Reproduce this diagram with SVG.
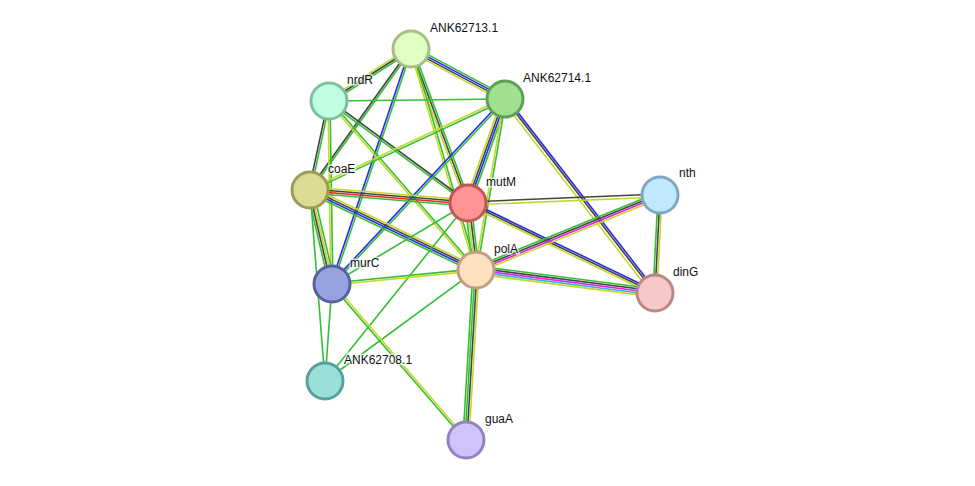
<svg xmlns="http://www.w3.org/2000/svg" width="975" height="486" viewBox="0 0 975 486">
<style>
line{stroke-width:1.6;fill:none}
.g{stroke:#33c033}.l{stroke:#c4d82c}.k{stroke:#444}.b{stroke:#2828f0}.r{stroke:#ee2222}.m{stroke:#e022e0}.c{stroke:#30b4e0}
circle{stroke-width:3}
text{font-family:"Liberation Sans",Arial,sans-serif;font-size:12px;fill:#111;stroke:#fff;stroke-width:3;stroke-opacity:.7;paint-order:stroke}
</style>
<rect width="975" height="486" fill="#fff"/>
<g id="edges">
<g transform="translate(411 49) rotate(147.6)"><line x2="97.1" y1="-2" y2="-2" class="g"/><line x2="97.1" class="k"/><line x2="97.1" y1="2" y2="2" class="l"/></g>
<g transform="translate(411 49) rotate(28)"><line x2="106.5" y1="-3" y2="-3" class="g"/><line x2="106.5" y1="-1" y2="-1" class="b"/><line x2="106.5" y1="1" y2="1" class="k"/><line x2="106.5" y1="3" y2="3" class="l"/></g>
<g transform="translate(411 49) rotate(125.6)"><line x2="173.4" y1="-1" y2="-1" class="g"/><line x2="173.4" y1="1" y2="1" class="k"/></g>
<g transform="translate(411 49) rotate(108.6)"><line x2="247.9" y1="-1" y2="-1" class="g"/><line x2="247.9" y1="1" y2="1" class="b"/></g>
<g transform="translate(411 49) rotate(69.7)"><line x2="164.2" y1="-2" y2="-2" class="g"/><line x2="164.2" class="k"/><line x2="164.2" y1="2" y2="2" class="l"/></g>
<g transform="translate(411 49) rotate(73.6)"><line x2="230.4" y1="-1" y2="-1" class="g"/><line x2="230.4" y1="1" y2="1" class="l"/></g>
<g transform="translate(329 101) rotate(-0.65)"><line x2="176" class="g"/></g>
<g transform="translate(329 101) rotate(102.1)"><line x2="91" y1="-1" y2="-1" class="g"/><line x2="91" y1="1" y2="1" class="k"/></g>
<g transform="translate(329 101) rotate(89.1)"><line x2="183" y1="-1" y2="-1" class="g"/><line x2="183" y1="1" y2="1" class="l"/></g>
<g transform="translate(329 101) rotate(36.3)"><line x2="172.4" y1="-1" y2="-1" class="k"/><line x2="172.4" y1="1" y2="1" class="g"/></g>
<g transform="translate(329 101) rotate(49)"><line x2="224" y1="-1" y2="-1" class="g"/><line x2="224" y1="1" y2="1" class="l"/></g>
<g transform="translate(505 99) rotate(155)"><line x2="215.2" y1="-1" y2="-1" class="g"/><line x2="215.2" y1="1" y2="1" class="l"/></g>
<g transform="translate(505 99) rotate(109.6)"><line x2="110.4" y1="-3" y2="-3" class="g"/><line x2="110.4" y1="-1" y2="-1" class="b"/><line x2="110.4" y1="1" y2="1" class="k"/><line x2="110.4" y1="3" y2="3" class="l"/></g>
<g transform="translate(505 99) rotate(99.6)"><line x2="173.4" y1="-1" y2="-1" class="g"/><line x2="173.4" y1="1" y2="1" class="l"/></g>
<g transform="translate(505 99) rotate(133.1)"><line x2="253.3" y1="-1" y2="-1" class="g"/><line x2="253.3" y1="1" y2="1" class="b"/></g>
<g transform="translate(505 99) rotate(52.3)"><line x2="245.2" y1="-2" y2="-2" class="b"/><line x2="245.2" class="k"/><line x2="245.2" y1="3" y2="3" class="l"/></g>
<g transform="translate(310 190) rotate(4.7)"><line x2="158.5" y1="-3" y2="-3" class="l"/><line x2="158.5" y1="-1" y2="-1" class="k"/><line x2="158.5" y1="1" y2="1" class="r"/><line x2="158.5" y1="3" y2="3" class="g"/></g>
<g transform="translate(310 190) rotate(25.7)"><line x2="184.3" y1="-3" y2="-3" class="l"/><line x2="184.3" y1="-1" y2="-1" class="k"/><line x2="184.3" y1="1" y2="1" class="b"/><line x2="184.3" y1="3" y2="3" class="g"/></g>
<g transform="translate(310 190) rotate(76.8)"><line x2="96.5" y1="-3" y2="-3" class="g"/><line x2="96.5" y1="-1" y2="-1" class="l"/><line x2="96.5" y1="1" y2="1" class="k"/><line x2="96.5" y1="3" y2="3" class="g"/></g>
<g transform="translate(310 190) rotate(85.5)"><line x2="191.6" class="g"/></g>
<g transform="translate(332 284) rotate(94.1)"><line x2="97.3" class="g"/></g>
<g transform="translate(325 381) rotate(-51.2)"><line x2="228.3" class="g"/></g>
<g transform="translate(325 381) rotate(-36.3)"><line x2="187.4" class="g"/></g>
<g transform="translate(332 284) rotate(-5.6)"><line x2="144.7" y1="-1" y2="-1" class="g"/><line x2="144.7" y1="1" y2="1" class="l"/></g>
<g transform="translate(332 284) rotate(-30.8)"><line x2="158.3" class="g"/></g>
<g transform="translate(332 284) rotate(49.3)"><line x2="205.7" y1="-1" y2="-1" class="l"/><line x2="205.7" y1="1" y2="1" class="g"/></g>
<g transform="translate(468 203) rotate(-2.4)"><line x2="192.2" y1="-1" y2="-1" class="k"/><line x2="192.2" y1="2" y2="2" class="l"/></g>
<g transform="translate(468 203) rotate(83.2)"><line x2="67.5" y1="-3" y2="-3" class="g"/><line x2="67.5" y1="-1" y2="-1" class="k"/><line x2="67.5" y1="1" y2="1" class="l"/><line x2="67.5" y1="3" y2="3" class="g"/></g>
<g transform="translate(468 203) rotate(25.7)"><line x2="207.5" y1="-2" y2="-2" class="b"/><line x2="207.5" class="k"/><line x2="207.5" y1="2" y2="2" class="l"/></g>
<g transform="translate(476 270) rotate(-22.2)"><line x2="198.7" y1="-3" y2="-3" class="g"/><line x2="198.7" y1="-1" y2="-1" class="k"/><line x2="198.7" y1="1" y2="1" class="m"/><line x2="198.7" y1="3" y2="3" class="l"/></g>
<g transform="translate(476 270) rotate(7.3)"><line x2="180.5" y1="-4" y2="-4" class="g"/><line x2="180.5" y1="-2" y2="-2" class="k"/><line x2="180.5" class="m"/><line x2="180.5" y1="2" y2="2" class="c"/><line x2="180.5" y1="4" y2="4" class="l"/></g>
<g transform="translate(476 270) rotate(93.4)"><line x2="170.3" y1="-3" y2="-3" class="l"/><line x2="170.3" y1="-1" y2="-1" class="k"/><line x2="170.3" y1="1" y2="1" class="g"/><line x2="170.3" y1="3" y2="3" class="g"/></g>
<g transform="translate(660 195) rotate(92.9)"><line x2="98.1" y1="-2" y2="-2" class="l"/><line x2="98.1" class="k"/><line x2="98.1" y1="2" y2="2" class="g"/></g>
</g>
<g id="n-ANK62713"><circle cx="411" cy="49" r="18" fill="#e0ffc0" stroke="#a2c182"/><text x="430" y="32">ANK62713.1</text></g>
<g id="n-nrdR"><circle cx="329" cy="101" r="18" fill="#c0ffe0" stroke="#80bf9e"/><text x="347" y="84">nrdR</text></g>
<g id="n-ANK62714"><circle cx="505" cy="99" r="18" fill="#a0e090" stroke="#5fa052"/><text x="523" y="82">ANK62714.1</text></g>
<g id="n-coaE"><circle cx="310" cy="190" r="18" fill="#dcdc94" stroke="#9c9c56"/><text x="328" y="173">coaE</text></g>
<g id="n-mutM"><circle cx="468" cy="203" r="18" fill="#ff9494" stroke="#c05656"/><text x="486" y="186">mutM</text></g>
<g id="n-nth"><circle cx="660" cy="195" r="18" fill="#c0e8ff" stroke="#80a8c2"/><text x="679" y="177">nth</text></g>
<g id="n-polA"><circle cx="476" cy="270" r="18" fill="#ffe0c0" stroke="#c0a080"/><text x="494" y="253">polA</text></g>
<g id="n-murC"><circle cx="332" cy="284" r="18" fill="#98a2de" stroke="#58629e"/><text x="350" y="267">murC</text></g>
<g id="n-dinG"><circle cx="655" cy="293" r="18" fill="#f8c8c8" stroke="#b88888"/><text x="673" y="276">dinG</text></g>
<g id="n-ANK62708"><circle cx="325" cy="381" r="18" fill="#98e0d8" stroke="#58a098"/><text x="344" y="364">ANK62708.1</text></g>
<g id="n-guaA"><circle cx="466" cy="440" r="18" fill="#d2c2fc" stroke="#9282be"/><text x="485" y="423">guaA</text></g>
</svg>
